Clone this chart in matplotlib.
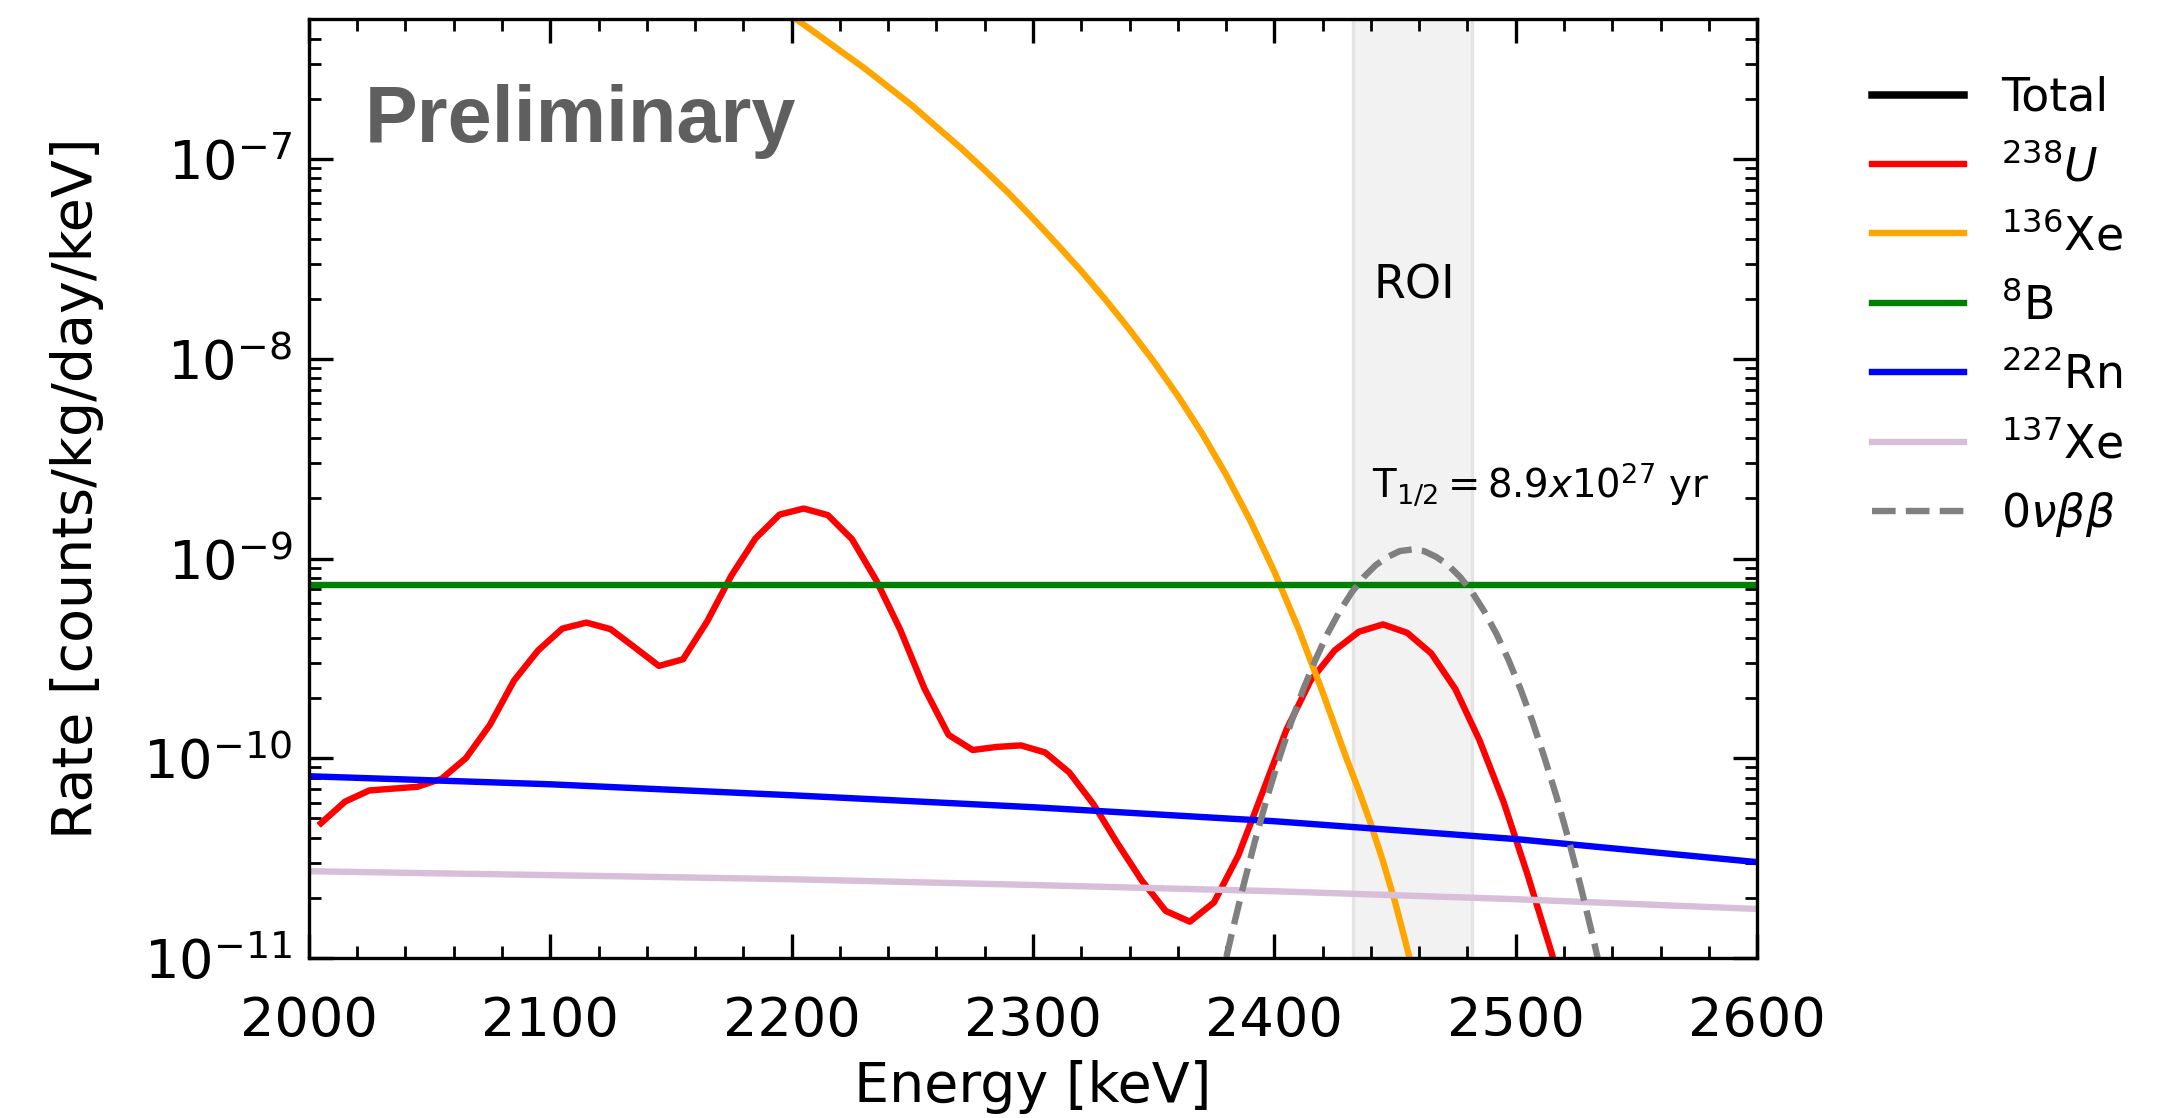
import numpy as np
import matplotlib
matplotlib.use("Agg")
import matplotlib.pyplot as plt

# ---------------- data ----------------
u238_energy = [2005, 2015, 2025, 2035, 2045, 2055, 2065, 2075, 2085, 2095,
               2105, 2115, 2125, 2135, 2145, 2155, 2165, 2175, 2185, 2195,
               2205, 2215, 2225, 2235, 2245, 2255, 2265, 2275, 2285, 2295,
               2305, 2315, 2325, 2335, 2345, 2355, 2365, 2375, 2385, 2395,
               2405, 2415, 2425, 2435, 2445, 2455, 2465, 2475, 2485, 2495,
               2505, 2515, 2525, 2535]
u238_rate = [4.73e-11, 6.07e-11, 6.9e-11, 7.05e-11, 7.2e-11, 7.9e-11, 1.0e-10, 1.47e-10, 2.45e-10, 3.47e-10,
             4.46e-10, 4.78e-10, 4.43e-10, 3.59e-10, 2.9e-10, 3.13e-10, 4.84e-10, 8.2e-10, 1.26e-9, 1.66e-9,
             1.78e-9, 1.65e-9, 1.25e-9, 7.8e-10, 4.4e-10, 2.24e-10, 1.31e-10, 1.1e-10, 1.14e-10, 1.16e-10,
             1.07e-10, 8.5e-11, 5.9e-11, 3.75e-11, 2.45e-11, 1.72e-11, 1.52e-11, 1.9e-11, 3.25e-11, 6.7e-11,
             1.39e-10, 2.45e-10, 3.47e-10, 4.3e-10, 4.68e-10, 4.25e-10, 3.35e-10, 2.22e-10, 1.23e-10, 6.03e-11,
             2.59e-11, 1.05e-11, 3.6e-12, 1.1e-12]

xe136_energy = [2190, 2200, 2210, 2220, 2230, 2240, 2250, 2260, 2270, 2280,
                2290, 2300, 2310, 2320, 2330, 2340, 2350, 2360, 2370, 2380,
                2390, 2400, 2410, 2420, 2430, 2435, 2440, 2445, 2450, 2455, 2460]
xe136_rate = [6.28e-7, 5.2e-7, 4.27e-7, 3.49e-7, 2.86e-7, 2.30e-7, 1.85e-7, 1.45e-7, 1.14e-7, 8.8e-8,
              6.73e-8, 5.04e-8, 3.74e-8, 2.75e-8, 1.98e-8, 1.40e-8, 9.70e-9, 6.53e-9, 4.24e-9, 2.63e-9,
              1.55e-9, 8.59e-10, 4.45e-10, 2.14e-10, 9.89e-11, 6.89e-11, 4.68e-11, 3.05e-11, 1.91e-11, 1.12e-11, 6.3e-12]

b8_energy = [2000, 2600]
b8_rate = [7.35e-10, 7.35e-10]

rn222_energy = [2000, 2100, 2200, 2300, 2400, 2500, 2600]
rn222_rate = [8.13e-11, 7.41e-11, 6.53e-11, 5.69e-11, 4.84e-11, 3.94e-11, 3.02e-11]

xe137_energy = [2000, 2100, 2200, 2300, 2400, 2500, 2600]
xe137_rate = [2.72e-11, 2.60e-11, 2.48e-11, 2.32e-11, 2.16e-11, 1.97e-11, 1.76e-11]

onu_energy = [2377, 2382, 2387, 2392, 2397, 2402, 2407, 2412, 2417, 2422, 2427, 2432, 2437,
              2442, 2447, 2452, 2457, 2462, 2467, 2472, 2477, 2482, 2487, 2492, 2497,
              2502, 2507, 2512, 2517, 2522, 2527, 2532, 2537]
onu_rate = [6.9e-12, 1.27e-11, 2.26e-11, 3.87e-11, 6.37e-11, 1.00e-10, 1.52e-10, 2.22e-10, 3.11e-10,
            4.20e-10, 5.43e-10, 6.76e-10, 8.07e-10, 9.27e-10, 1.02e-9, 1.09e-9, 1.11e-9,
            1.09e-9, 1.02e-9, 9.27e-10, 8.07e-10, 6.76e-10, 5.43e-10, 4.20e-10, 3.11e-10,
            2.22e-10, 1.52e-10, 1.00e-10, 6.37e-11, 3.87e-11, 2.26e-11, 1.27e-11, 6.9e-12]

roi_range = [2432.5, 2482]
labels = ["Total", r"$^{238}U$", r"$^{136}$Xe", r"$^{8}$B", r"$^{222}$Rn", r"$^{137}$Xe", r"$0\nu\beta\beta$"]

# ---------------- figure ----------------
W, H, DPI = 2183, 1118, 200
fig = plt.figure(figsize=(W / DPI, H / DPI), dpi=DPI)
ax = fig.add_axes([0.1415, 0.1431, 0.6634, 0.8395])

lw = 2.3
ax.axvspan(roi_range[0], roi_range[1], facecolor="#f2f2f2", edgecolor="#e4e4e4", linewidth=1.2, zorder=0)

h_tot, = ax.plot([], [], color="black", lw=2.7, label=labels[0])
h_u, = ax.plot(u238_energy, u238_rate, color="red", lw=lw, label=labels[1])
h_xe, = ax.plot(xe136_energy, xe136_rate, color="orange", lw=lw, label=labels[2])
h_b, = ax.plot(b8_energy, b8_rate, color="green", lw=lw, label=labels[3])
h_rn, = ax.plot(rn222_energy, rn222_rate, color="blue", lw=lw, label=labels[4])
h_x7, = ax.plot(xe137_energy, xe137_rate, color="thistle", lw=lw, label=labels[5])
h_0, = ax.plot(onu_energy, onu_rate, color="gray", lw=lw, ls="--", label=labels[6])

ax.set_yscale("log")
ax.set_xlim(2000, 2600)
ax.set_ylim(1e-11, 5e-7)
ax.set_xticks([2000, 2100, 2200, 2300, 2400, 2500, 2600])
ax.xaxis.set_minor_locator(matplotlib.ticker.MultipleLocator(20))

ax.tick_params(axis="both", which="both", direction="in", top=True, right=True)
ax.tick_params(axis="both", which="major", length=8.5, width=1.2, labelsize=19.5)
ax.tick_params(axis="x", which="major", pad=13.3)
ax.tick_params(axis="y", which="major", pad=6)
ax.tick_params(axis="both", which="minor", length=4.3, width=1.0)
for s in ax.spines.values():
    s.set_linewidth(1.2)

ax.set_xlabel("Energy [keV]", fontsize=20, labelpad=4.7)
ax.set_ylabel("Rate [counts/kg/day/keV]", fontsize=20, labelpad=14)

ax.text(0.0387, 0.869, "Preliminary", transform=ax.transAxes, fontsize=28.5,
        fontweight="bold", family="Liberation Sans", color="#5f5f5f", va="baseline", ha="left")
ax.text(2458, 2.0e-8, "ROI", fontsize=16.5, ha="center", va="baseline")
ax.text(2440.5, 2.02e-9, r"T$_{1/2} = 8.9x10^{27}$ yr", fontsize=13.9, ha="left", va="baseline")

# legend: one row per entry, evenly spaced to the right of the axes
handles = [h_tot, h_u, h_xe, h_b, h_rn, h_x7, h_0]
x_leg = 1872.4 / W
row_top = 94.7   # px from top, line centre of first row
row_step = 69.4  # px between rows
legs = []
for i, h in enumerate(handles):
    y_row = 1 - (row_top + i * row_step) / H
    lg = fig.legend(handles=[h], loc="center left", bbox_to_anchor=(x_leg, y_row),
                    frameon=False, fontsize=16.5, handlelength=2.0, handletextpad=0.8,
                    borderpad=0, borderaxespad=0)
    legs.append((lg, y_row))

fig.canvas.draw()
renderer = fig.canvas.get_renderer()
for lg, y_row in legs:
    line = lg.get_lines()[0]
    bb = line.get_window_extent(renderer)
    cy = 0.5 * (bb.y0 + bb.y1) / H
    lg.set_bbox_to_anchor((x_leg, y_row + (y_row - cy)))

fig.savefig("out.png", dpi=DPI)
